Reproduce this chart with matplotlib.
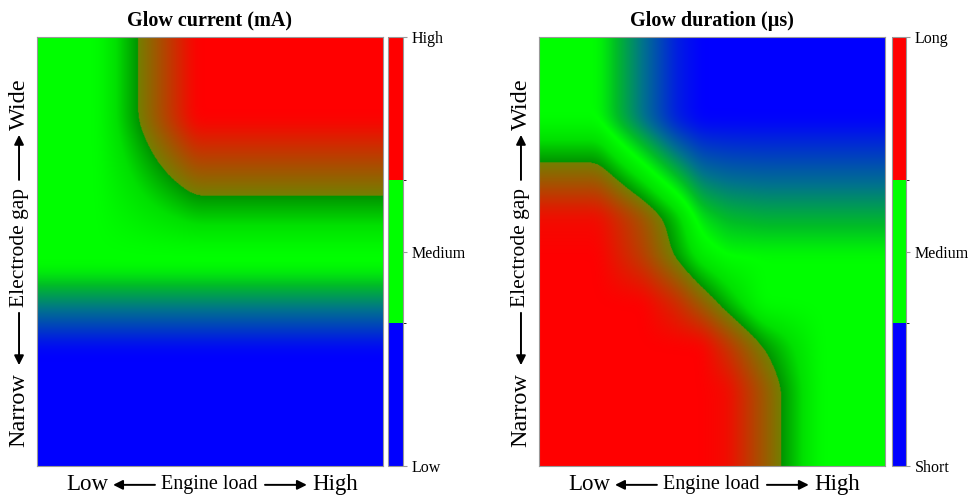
import numpy as np
import matplotlib
matplotlib.use("Agg")
import matplotlib.pyplot as plt
from matplotlib.colors import LinearSegmentedColormap, ListedColormap, BoundaryNorm
from matplotlib.cm import ScalarMappable

plt.rcParams['font.family'] = ['Liberation Serif', 'DejaVu Serif']

# level codes: 0 = low/short, 1 = medium, 2 = high/long
# knots along engine load (x) and electrode gap (y), both scaled to 0..1
current_load = [0, 0.17, 0.46, 1]
current_gap = [0, 0.27, 0.46, 0.50, 0.81, 1]
current_level = [
    [0, 0, 0, 0],
    [0, 0, 0, 0],
    [1, 1, 1, 1],
    [1, 1, 1, 1],
    [1, 1, 2, 2],
    [1, 1, 2, 2],
]

duration_load = [0, 0.17, 0.30, 0.40, 0.47, 0.545, 0.65, 0.82, 1]
duration_gap = [0, 0.18, 0.28, 0.38, 0.49, 0.58, 0.81, 1]
duration_level = [
    [2, 2, 2, 2, 2, 1.95, 1.6, 1, 1],
    [2, 2, 2, 2, 2, 1.95, 1.6, 1, 1],
    [2, 2, 2, 2, 2, 1.76, 1.41, 1, 1],
    [2, 2, 2, 1.8, 1.57, 1.32, 1, 1, 1],
    [2, 2, 1.71, 1.38, 1.12, 1, 1, 1, 1],
    [1.95, 1.95, 1.62, 1.28, 0.9, 0.78, 0.74, 0.74, 0.74],
    [1, 1, 0.5, 0.12, 0, 0, 0, 0, 0],
    [1, 1, 0.5, 0.12, 0, 0, 0, 0, 0],
]

current_ticks = ["Low", "Medium", "High"]
duration_ticks = ["Short", "Medium", "Long"]

# blue -> green -> red, with a hard step where green gives way to red
level_cmap = LinearSegmentedColormap.from_list("levels", [
    (0.00, (0.0, 0.0, 1.0)),
    (0.25, (0.0, 0.45, 0.55)),
    (0.40, (0.0, 0.74, 0.15)),
    (0.50, (0.0, 1.0, 0.0)),
    (0.60, (0.0, 0.88, 0.0)),
    (0.71, (0.0, 0.58, 0.0)),
    (0.71, (0.45, 0.5, 0.0)),
    (1.00, (1.0, 0.0, 0.0)),
], N=1024)
bar_cmap = ListedColormap(["#0000ff", "#00ff00", "#ff0000"])
bar_norm = BoundaryNorm([0, 1, 2, 3], 3)


def box_blur(a, k, axis):
    pad = k // 2
    kern = np.ones(k) / k
    padded = np.pad(a, [(pad, pad) if i == axis else (0, 0) for i in range(2)], mode="edge")
    return np.apply_along_axis(lambda r: np.convolve(r, kern, mode="valid"), axis, padded)


def smooth_field(xk, yk, z, n=500, k=21):
    # bilinear interpolation on the (uneven) knot grid, then soften the kinks
    xs = np.linspace(0, 1, n)
    ys = np.linspace(0, 1, n)
    z = np.asarray(z, dtype=float)
    rows = np.array([np.interp(xs, xk, r) for r in z])
    field = np.array([np.interp(ys, yk, rows[:, i]) for i in range(n)]).T
    for _ in range(2):
        field = box_blur(field, k, 0)
        field = box_blur(field, k, 1)
    return field


def arrow(ax, start, end):
    ax.annotate("", xy=end, xytext=start, xycoords="axes fraction",
                arrowprops=dict(arrowstyle="-|>", color="k", lw=1.4,
                                mutation_scale=14, shrinkA=0, shrinkB=0))


def draw_panel(fig, ax, cax, title, xk, yk, z, ticks):
    field = smooth_field(xk, yk, z)
    ax.imshow(field, origin="lower", extent=[0, 1, 0, 1], aspect="auto",
              cmap=level_cmap, vmin=0, vmax=2, interpolation="bilinear")
    ax.set_xlim(0, 1)
    ax.set_ylim(0, 1)
    ax.set_xticks([])
    ax.set_yticks([])
    for s in ax.spines.values():
        s.set_color("#999999")
        s.set_linewidth(0.8)
    ax.set_title(title, fontweight="bold", fontsize=14.5, pad=8)

    # x label: Low <-- Engine load --> High
    yb = -0.044
    ax.text(0.145, yb, "Low", fontsize=16.5, ha="center", va="center", transform=ax.transAxes)
    arrow(ax, (0.341, yb), (0.220, yb))
    ax.text(0.499, yb, "Engine load", fontsize=14.5, ha="center", va="center", transform=ax.transAxes)
    arrow(ax, (0.659, yb), (0.780, yb))
    ax.text(0.861, yb, "High", fontsize=16.5, ha="center", va="center", transform=ax.transAxes)

    # y label: Narrow <-- Electrode gap --> Wide
    xl = -0.052
    ax.text(xl, 0.131, "Narrow", fontsize=17.5, rotation=90, ha="center", va="center", transform=ax.transAxes)
    arrow(ax, (xl, 0.357), (xl, 0.235))
    ax.text(xl, 0.510, "Electrode gap", fontsize=15.5, rotation=90, ha="center", va="center", transform=ax.transAxes)
    arrow(ax, (xl, 0.667), (xl, 0.772))
    ax.text(xl, 0.844, "Wide", fontsize=17.5, rotation=90, ha="center", va="center", transform=ax.transAxes)

    cb = fig.colorbar(ScalarMappable(bar_norm, bar_cmap), cax=cax, ticks=[0, 1.5, 3])
    cb.set_ticklabels(ticks)
    cb.outline.set_edgecolor("#999999")
    cb.outline.set_linewidth(0.8)
    cax.tick_params(length=3, width=0.8, color="#999999", labelsize=11.5, pad=3)


fig = plt.figure(figsize=(9.69, 4.97), dpi=100)
ax1 = fig.add_axes([0.0382, 0.0624, 0.357, 0.863])
cax1 = fig.add_axes([0.4004, 0.0624, 0.0155, 0.863])
ax2 = fig.add_axes([0.5562, 0.0624, 0.357, 0.863])
cax2 = fig.add_axes([0.9205, 0.0624, 0.0150, 0.863])

draw_panel(fig, ax1, cax1, "Glow current (mA)", current_load, current_gap, current_level, current_ticks)
draw_panel(fig, ax2, cax2, "Glow duration (\u00b5s)", duration_load, duration_gap, duration_level, duration_ticks)

fig.savefig("out.png", dpi=100)
